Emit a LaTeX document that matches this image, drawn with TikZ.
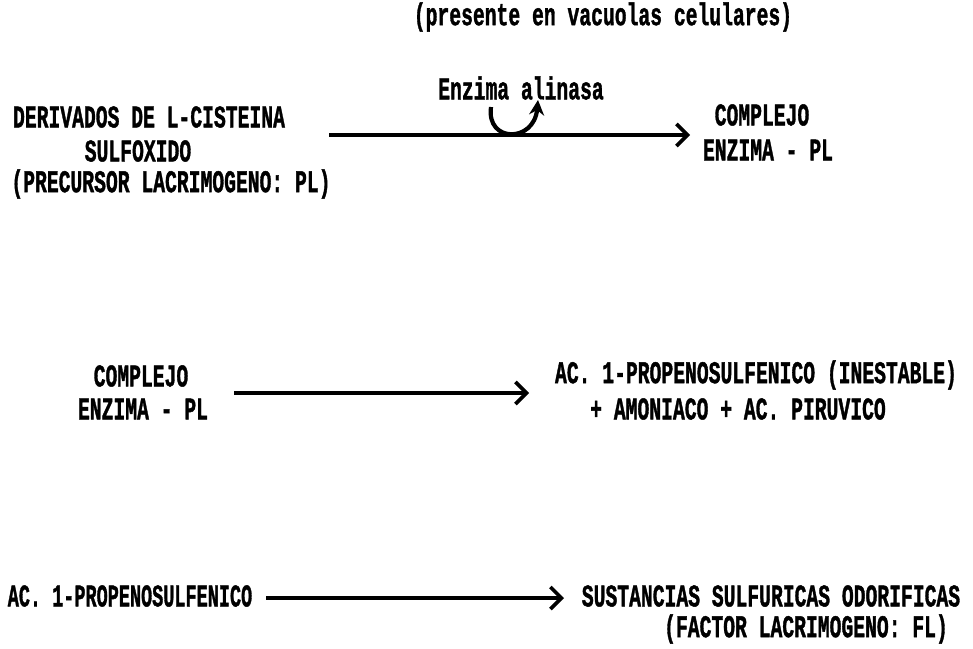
\documentclass[tikz,border=0pt]{standalone}
\usepackage{fontspec}
\usepackage{graphicx}
\setmonofont[BoldFeatures={FakeBold=1.6}]{Liberation Mono}
\usetikzlibrary{arrows.meta}
\newcommand\twr[1]{\scalebox{1}[1.6]{#1}}
\tikzset{
  lbl/.style={inner sep=0pt, font=\ttfamily\bfseries\fontsize{19.7}{22}\selectfont},
  rxn/.style={line width=3.2pt, -{Straight Barb[length=11pt,width=22pt,line width=3.6pt]}},
}
\begin{document}
\begin{tikzpicture}[x=1pt,y=-1pt]
\useasboundingbox (0,0) rectangle (973,648);
% top note
\node[lbl] (pres) at (603,17) {\twr{(presente en vacuolas celulares)}};
\node[lbl] (enz) at (521,88) {\twr{Enzima alinasa}};
% row 1
\node[lbl] (d1) at (149,117) {\twr{DERIVADOS DE L-CISTEINA}};
\node[lbl] (d2) at (138,151) {\twr{SULFOXIDO}};
\node[lbl] (d3) at (171,184) {\twr{(PRECURSOR LACRIMOGENO: PL)}};
\node[lbl] (c1a) at (762,115) {\twr{COMPLEJO}};
\node[lbl] (c1b) at (768,150) {\twr{ENZIMA - PL}};
\coordinate (a1s) at (329,135);
\coordinate (a1e) at (690,135);
\draw[rxn] (a1s) -- (a1e);
\coordinate (u1) at (491,107);
\coordinate (u2) at (538,100);
\draw[line width=4.2pt, -{Stealth[length=15pt,width=15pt]}] (u1) .. controls (486,143) and (534,143) .. (u2);
% row 2
\node[lbl] (c2a) at (141,376) {\twr{COMPLEJO}};
\node[lbl] (c2b) at (143,409) {\twr{ENZIMA - PL}};
\node[lbl] (r2a) at (756,375) {\twr{AC. 1-PROPENOSULFENICO (INESTABLE)}};
\node[lbl] (r2b) at (738,409) {\twr{+ AMONIACO + AC. PIRUVICO}};
\coordinate (a2s) at (234,393);
\coordinate (a2e) at (529,393);
\draw[rxn] (a2s) -- (a2e);
% row 3
\node[lbl] (r3a) at (130,596) {\scalebox{0.94}[1.6]{AC. 1-PROPENOSULFENICO}};
\node[lbl] (r3b) at (771,596) {\twr{SUSTANCIAS SULFURICAS ODORIFICAS}};
\node[lbl] (r3c) at (806,629) {\twr{(FACTOR LACRIMOGENO: FL)}};
\coordinate (a3s) at (266,598);
\coordinate (a3e) at (564,598);
\draw[rxn] (a3s) -- (a3e);
\end{tikzpicture}
\end{document}
